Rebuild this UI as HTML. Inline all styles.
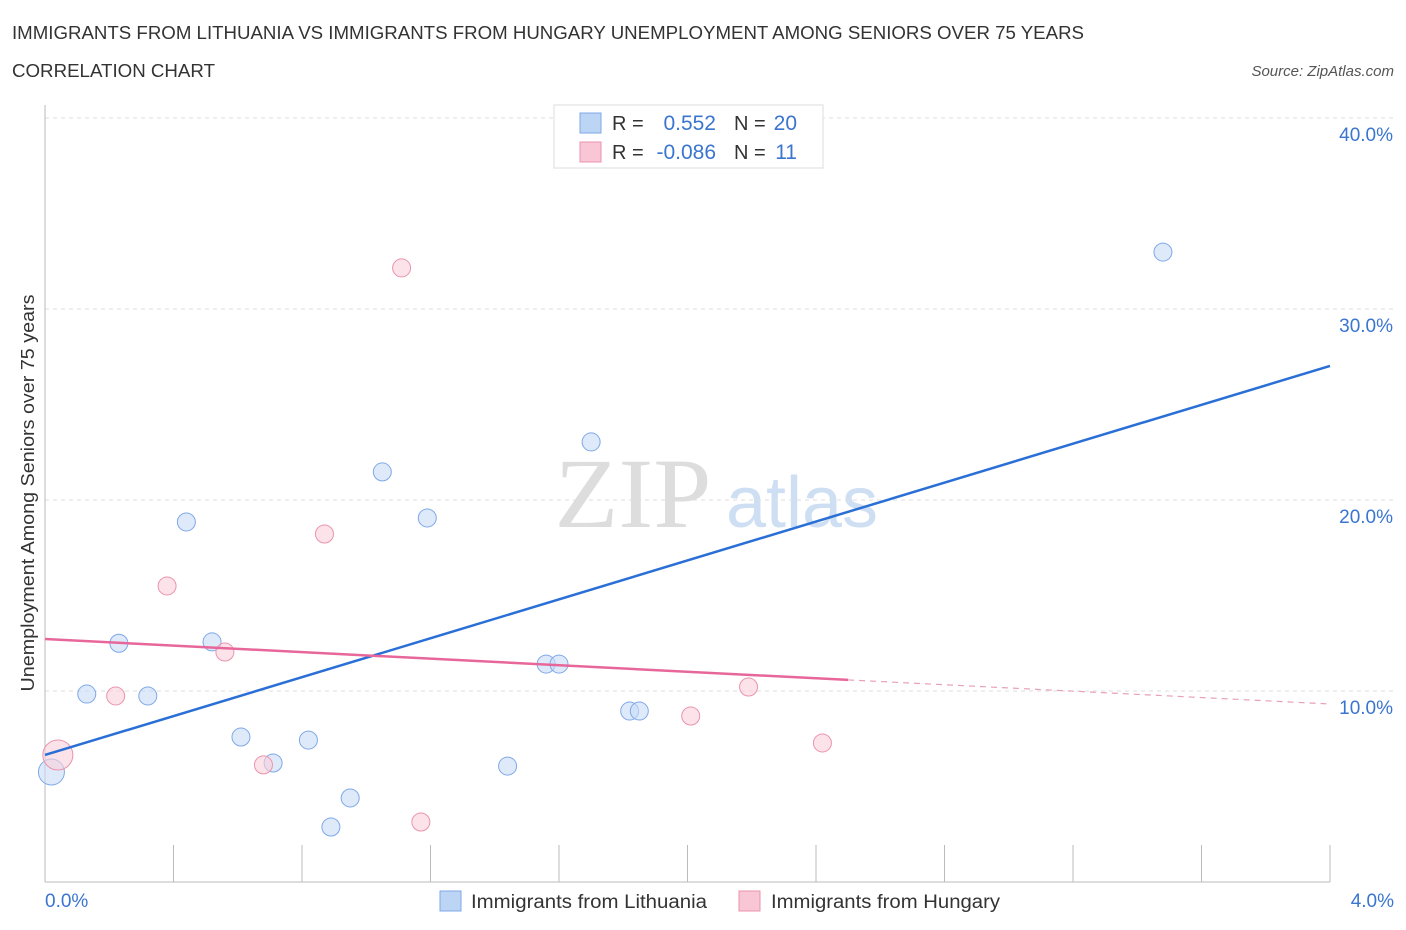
<!DOCTYPE html>
<html><head><meta charset="utf-8">
<style>
body{margin:0;background:#fff;font-family:"Liberation Sans",sans-serif;}
svg{display:block}
</style></head>
<body>
<svg id="chart" width="1406" height="930" viewBox="0 0 1406 930">
<text x="12" y="39" font-size="18" fill="#333" textLength="1072" lengthAdjust="spacingAndGlyphs">IMMIGRANTS FROM LITHUANIA VS IMMIGRANTS FROM HUNGARY UNEMPLOYMENT AMONG SENIORS OVER 75 YEARS</text>
<text x="12" y="77" font-size="18" fill="#333" textLength="203" lengthAdjust="spacingAndGlyphs">CORRELATION CHART</text>
<text x="1394" y="76" font-size="15" fill="#555" font-style="italic" text-anchor="end">Source: ZipAtlas.com</text>
<text x="633" y="527" font-size="100" fill="#ddd" text-anchor="middle" font-family="Liberation Serif,serif" textLength="157" lengthAdjust="spacingAndGlyphs">ZIP</text>
<text x="802" y="527" font-size="72" fill="#cfdff3" text-anchor="middle">atlas</text>
<g id="grid"></g>
<g id="axes"></g>
<g id="marks"></g>
<text transform="translate(34,493) rotate(-90)" font-size="18" fill="#333" text-anchor="middle" textLength="397" lengthAdjust="spacingAndGlyphs">Unemployment Among Seniors over 75 years</text>
<text x="45" y="907" font-size="19" fill="#3a75d0">0.0%</text>
<text x="1394" y="907" font-size="19" fill="#3a75d0" text-anchor="end">4.0%</text>
<g>
<rect x="554" y="105" width="269" height="63" fill="#fff" stroke="#ddd"/>
<rect x="580" y="113" width="21" height="20" fill="#bcd5f5" stroke="#7fa8e8"/>
<rect x="580" y="142" width="21" height="20" fill="#f9c6d5" stroke="#eb93ad"/>
<text x="612" y="130" font-size="20" fill="#333">R =</text>
<text x="716" y="130" font-size="21" fill="#3a75d0" text-anchor="end">0.552</text>
<text x="734" y="130" font-size="20" fill="#333">N =</text>
<text x="797" y="130" font-size="21" fill="#3a75d0" text-anchor="end">20</text>
<text x="612" y="159" font-size="20" fill="#333">R =</text>
<text x="716" y="159" font-size="21" fill="#3a75d0" text-anchor="end">-0.086</text>
<text x="734" y="159" font-size="20" fill="#333">N =</text>
<text x="797" y="159" font-size="21" fill="#3a75d0" text-anchor="end">11</text>
</g>
<g>
<rect x="440" y="891" width="21" height="20" fill="#bcd5f5" stroke="#7fa8e8"/>
<text x="471" y="908" font-size="19" fill="#333" textLength="236" lengthAdjust="spacingAndGlyphs">Immigrants from Lithuania</text>
<rect x="739" y="891" width="21" height="20" fill="#f9c6d5" stroke="#eb93ad"/>
<text x="771" y="908" font-size="19" fill="#333" textLength="229" lengthAdjust="spacingAndGlyphs">Immigrants from Hungary</text>
</g>
</svg>
<script>
const yTicks=[10,20,30,40];
const yTickLabels=["10.0%","20.0%","30.0%","40.0%"];
const xTicks=[0,0.4,0.8,1.2,1.6,2.0,2.4,2.8,3.2,3.6,4.0];
const lithX=[0.02,0.13,0.23,0.32,0.44,0.52,0.61,0.71,0.82,0.89,0.95,1.05,1.19,1.44,1.56,1.60,1.70,1.82,1.85,3.48];
const lithY=[5.76,9.84,12.5,9.74,18.85,12.57,7.59,6.23,7.43,2.88,4.40,21.47,19.06,6.07,11.41,11.41,23.04,8.95,8.95,32.98];
const lithR=[13,9,9,9,9,9,9,9,9,9,9,9,9,9,9,9,9,9,9,9];
const hungX=[0.04,0.22,0.38,0.56,0.68,0.87,1.11,1.17,2.01,2.19,2.42];
const hungY=[6.65,9.74,15.5,12.04,6.13,18.22,32.15,3.14,8.69,10.21,7.28];
const hungR=[15,9,9,9,9,9,9,9,9,9,9];
const lithTrend=[[0,6.65],[4.0,27.02]];
const hungTrend=[[0,12.72],[2.5,10.58],[4.0,9.32]];
const NS="http://www.w3.org/2000/svg";
const xs=v=>45+v/4*1285, ys=v=>882-v*19.1;
function mk(tag,a,parent){const e=document.createElementNS(NS,tag);for(const k in a)e.setAttribute(k,a[k]);document.getElementById(parent).appendChild(e);return e;}
yTicks.forEach((t,i)=>{
 const l=mk('line',{x1:45,x2:1395,y1:ys(t),y2:ys(t),stroke:'#ddd','stroke-dasharray':'4,4'},'grid');
 
 
 const tx=mk('text',{x:1393,y:ys(t)+23,'font-size':19,fill:'#3a75d0','text-anchor':'end'},'grid');
 tx.textContent=yTickLabels[i];
 
 
});
const ax=mk('line',{x1:45,x2:45,y1:105,y2:882,stroke:'#bbb'},'axes');


const bx=mk('line',{x1:45,x2:1330,y1:882,y2:882,stroke:'#bbb'},'axes');


xTicks.forEach(t=>{
 const l=mk('line',{x1:xs(t),x2:xs(t),y1:845,y2:882,stroke:'#bbb'},'axes');
 
 
});
lithX.forEach((x,i)=>{
 const c=mk('circle',{cx:xs(x),cy:ys(lithY[i]),r:lithR[i],fill:'#c8dcf6','fill-opacity':0.6,stroke:'#7fa8e8'},'marks');
 
 
});
hungX.forEach((x,i)=>{
 const c=mk('circle',{cx:xs(x),cy:ys(hungY[i]),r:hungR[i],fill:'#fad0dc','fill-opacity':0.6,stroke:'#eb93ad'},'marks');
 
 
});
const bl=mk('line',{x1:xs(lithTrend[0][0]),y1:ys(lithTrend[0][1]),x2:xs(lithTrend[1][0]),y2:ys(lithTrend[1][1]),stroke:'#2a6fd6','stroke-width':2.5},'marks');


const pl=mk('line',{x1:xs(hungTrend[0][0]),y1:ys(hungTrend[0][1]),x2:xs(hungTrend[1][0]),y2:ys(hungTrend[1][1]),stroke:'#e8679a','stroke-width':2.5},'marks');


const pd=mk('line',{x1:xs(hungTrend[1][0]),y1:ys(hungTrend[1][1]),x2:xs(hungTrend[2][0]),y2:ys(hungTrend[2][1]),stroke:'#e8a0bb','stroke-width':1.2,'stroke-dasharray':'6,5'},'marks');


</script>
</body></html>
